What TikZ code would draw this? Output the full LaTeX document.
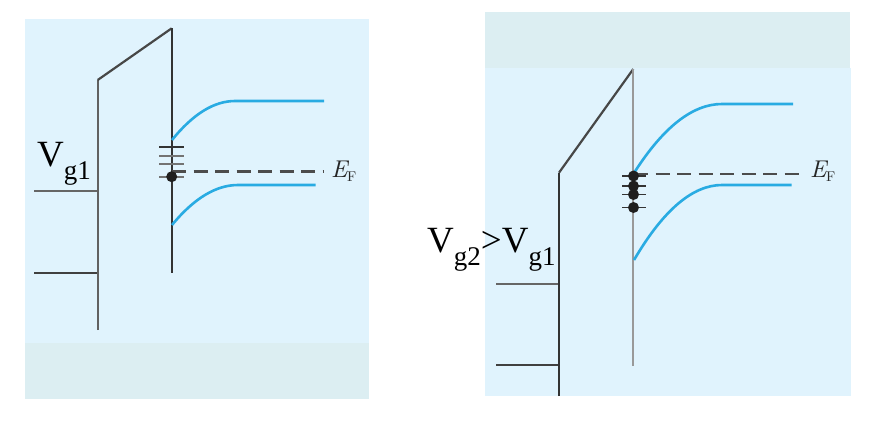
\documentclass[tikz,border=0pt]{standalone}
\usepackage{fontspec}
\usepackage{graphicx}
\setmainfont{Liberation Serif}
\newfontfamily\lmfont{Latin Modern Roman}
\definecolor{panelc}{RGB}{224,243,253}
\definecolor{bandc}{RGB}{220,238,242}
\definecolor{bandblue}{RGB}{41,171,226}
\newcommand{\subtxt}[1]{\raisebox{-13pt}{\fontsize{27}{27}\selectfont #1}}
\newcommand{\efermi}{\resizebox{!}{16.5pt}{\lmfont\itshape E}\kern-0.5pt\raisebox{-4pt}{\resizebox{!}{9.6pt}{\lmfont F}}}
\begin{document}
\begin{tikzpicture}[x=1pt,y=-1pt,
  edge/.style={line width=2.2pt, draw=black!72},
  cb/.style={line width=2.6pt, draw=bandblue},
  lvl/.style={line width=1.9pt, draw=black!55},
  lvldark/.style={line width=1.9pt, draw=black!80},
  efline/.style={line width=2.1pt, draw=black!70, dash pattern=on 14pt off 7.5pt},
  dotst/.style={circle, fill=black!88, inner sep=0pt, minimum size=11pt},
  lab/.style={font=\fontsize{37}{37}\selectfont, inner sep=0pt, anchor=base west},
  eflab/.style={text=black!85, inner sep=0pt, anchor=base west}]
\useasboundingbox (0,0) rectangle (888,421);
% ---------- left panel ----------
\fill[panelc] (24.7,19) rectangle (369,343);
\fill[bandc] (24.7,343) rectangle (369,399);
\draw[edge, draw=black!60] (34,191) -- (97.7,191);
\draw[edge, draw=black!75] (34,272.7) -- (97.7,272.7);
\draw[edge, draw=black!62] (97.7,330) -- (97.7,80);
\draw[edge] (97.7,80) -- (171.7,28.3);
\draw[edge, draw=black!80] (171.7,28.3) -- (171.7,273);
\draw[cb] (172,140) .. controls (193,114) and (214,101) .. (235,101) -- (324,101);
\draw[cb] (172,225) .. controls (194,198.3) and (216,185) .. (238,185) -- (315.7,185);
\draw[efline] (172,171.5) -- (324,171.5);
\draw[lvldark] (159,146.7) -- (184,146.7);
\draw[lvl] (159,155.7) -- (184,155.7);
\draw[lvl] (159,164) -- (184,164);
\draw[lvl] (159,176.7) -- (184,176.7);
\node[dotst] (d1) at (171.7,176.7) {};
\node[lab] (vg1) at (37,166) {V\subtxt{g1}};
\node[eflab] (ef1) at (331,177) {\efermi};
% ---------- right panel ----------
\fill[bandc] (485,11.7) rectangle (850,68.3);
\fill[panelc] (485,68.3) rectangle (850.7,396);
\draw[edge, draw=black!60] (496,284) -- (559,284);
\draw[edge, draw=black!75] (496,365) -- (559,365);
\draw[edge, draw=black!80] (559,396) -- (559,172.7);
\draw[edge] (559,172.7) -- (633.3,69);
\draw[edge, draw=black!40] (633.3,69) -- (633.3,366);
\draw[cb] (634,173) .. controls (663.3,127) and (692.7,104) .. (722,104) -- (793,104);
\draw[cb] (634,260) .. controls (663.3,210) and (692.7,185) .. (722,185) -- (791.7,185);
\draw[efline] (634,174) -- (805,174);
\foreach \yy/\nm in {176/a,186/b,194.5/c,207.5/d}{
  \draw[lvldark] (622,\yy) -- (646,\yy);
  \node[dotst] (r\nm) at (633.5,\yy) {};
}
\node[lab] (vg2) at (427,252) {V\subtxt{g2}>V\subtxt{g1}};
\node[eflab] (ef2) at (810,177.7) {\efermi};
\end{tikzpicture}
\end{document}
